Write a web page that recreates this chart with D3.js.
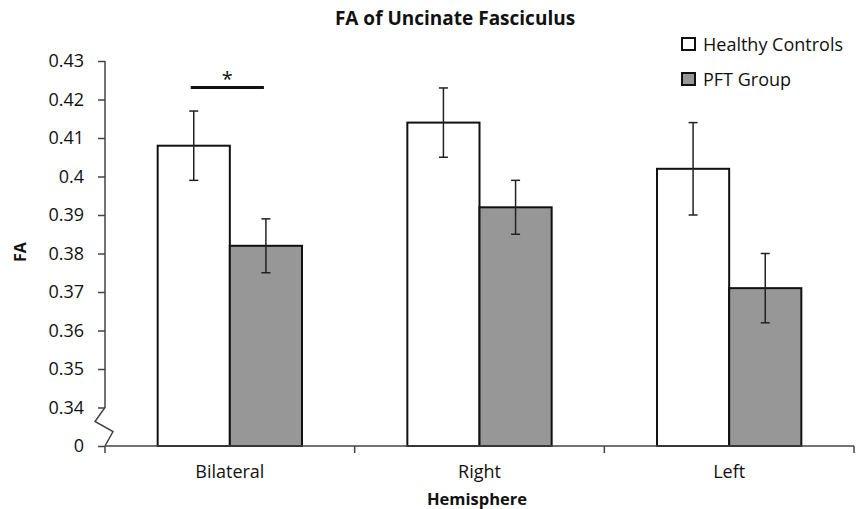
<!DOCTYPE html>
<html><head><meta charset="utf-8">
<script src="https://cdn.jsdelivr.net/npm/d3@7"></script>
<style>body{margin:0;background:#fff}svg{display:block}text{font-family:"Open Sans",sans-serif;fill:#111}</style>
</head><body><svg id="c" width="857" height="509"></svg>
<script>
const categories = ["Bilateral", "Right", "Left"];
const seriesNames = ["Healthy Controls", "PFT Group"];
const healthy = [0.408, 0.414, 0.402];
const healthyErr = [0.009, 0.009, 0.012];
const pft = [0.382, 0.392, 0.371];
const pftErr = [0.007, 0.007, 0.009];
const tickValues = [0.33, 0.34, 0.35, 0.36, 0.37, 0.38, 0.39, 0.40, 0.41, 0.42, 0.43];
const tickLabels = ["0", "0.34", "0.35", "0.36", "0.37", "0.38", "0.39", "0.4", "0.41", "0.42", "0.43"];
const colors = ["#ffffff", "#979797"];

(function () {
const svg = d3.select("#c");
const mLeft = 105, mRight = 854, mTop = 61, mBottom = 446;
const y = d3.scaleLinear().domain([0.33, 0.43]).range([mBottom, mTop]);
const x = d3.scaleBand().domain(categories).range([mLeft, mRight]);
const inner = d3.scaleBand().domain(seriesNames).range([0, x.bandwidth()]).paddingOuter(0.73).paddingInner(0);

// title
svg.append("text").attr("x", 455).attr("y", 25).attr("text-anchor", "middle")
  .attr("font-weight", "bold").attr("font-size", 19).text("FA of Uncinate Fasciculus");

// y axis
const yAxis = d3.axisLeft(y).tickValues(tickValues).tickSize(7).tickPadding(14)
  .tickFormat((d, i) => tickLabels[i]);
const gy = svg.append("g").attr("transform", `translate(${mLeft},0)`).call(yAxis);
gy.select(".domain").remove();
gy.selectAll(".tick line").attr("stroke", "#444").attr("stroke-width", 1.5);
gy.selectAll(".tick text").attr("font-size", 18).style("font-family", "'Open Sans',sans-serif").attr("fill", "#111");
svg.append("path").attr("fill", "none").attr("stroke", "#444").attr("stroke-width", 1.5)
  .attr("d", d3.line()([[mLeft, y(0.43)], [mLeft, y(0.34)], [mLeft - 10, y(0.34) + 14], [mLeft + 8, y(0.34) + 24], [mLeft, y(0.33)]]));

// bars
const data = categories.map((c, i) => ({c, vals: [
  {s: seriesNames[0], v: healthy[i], e: healthyErr[i], col: colors[0]},
  {s: seriesNames[1], v: pft[i], e: pftErr[i], col: colors[1]}]}));
const g = svg.append("g");
data.forEach(d => {
  d.vals.forEach(b => {
    const bx = x(d.c) + inner(b.s);
    g.append("rect").attr("x", bx).attr("y", y(b.v)).attr("width", inner.bandwidth())
      .attr("height", y(0.33) - y(b.v)).attr("fill", b.col).attr("stroke", "#111").attr("stroke-width", 2);
  });
});
data.forEach(d => {
  d.vals.forEach(b => {
    const cx = x(d.c) + inner(b.s) + inner.bandwidth() / 2;
    const y1 = y(b.v + b.e), y2 = y(b.v - b.e);
    g.append("line").attr("x1", cx).attr("x2", cx).attr("y1", y1).attr("y2", y2).attr("stroke", "#222").attr("stroke-width", 1.5);
    [y1, y2].forEach(yy => g.append("line").attr("x1", cx - 4.5).attr("x2", cx + 4.5).attr("y1", yy).attr("y2", yy).attr("stroke", "#222").attr("stroke-width", 1.5));
  });
});

// x axis
svg.append("line").attr("x1", mLeft).attr("x2", mRight).attr("y1", mBottom).attr("y2", mBottom).attr("stroke", "#444").attr("stroke-width", 1.5);
const bounds = categories.map(c => x(c)).concat([x.range()[1]]);
bounds.forEach(bx => svg.append("line").attr("x1", bx).attr("x2", bx).attr("y1", mBottom).attr("y2", mBottom + 7).attr("stroke", "#444").attr("stroke-width", 1.5));
categories.forEach(c => svg.append("text").attr("x", x(c) + x.bandwidth() / 2).attr("y", 478)
  .attr("text-anchor", "middle").attr("font-size", 18).text(c));
svg.append("text").attr("x", 477).attr("y", 505).attr("text-anchor", "middle").attr("font-weight", "bold").attr("font-size", 16.5).text("Hemisphere");
svg.append("text").attr("transform", `translate(26,252) rotate(-90)`).attr("text-anchor", "middle")
  .attr("font-weight", "bold").attr("font-size", 16).text("FA");

// significance
const sx1 = x("Bilateral") + inner(seriesNames[0]) + inner.bandwidth() / 2 - 3;
const sx2 = x("Bilateral") + inner(seriesNames[1]) + inner.bandwidth() / 2 - 2;
svg.append("line").attr("x1", sx1).attr("x2", sx2).attr("y1", 87.5).attr("y2", 87.5).attr("stroke", "#111").attr("stroke-width", 3);
svg.append("text").attr("x", (sx1 + sx2) / 2).attr("y", 86).attr("text-anchor", "middle").attr("font-size", 20).text("*");

// legend
seriesNames.forEach((s, i) => {
  const ly = 38 + i * 35;
  svg.append("rect").attr("x", 682).attr("y", ly).attr("width", 13).attr("height", 12)
    .attr("fill", colors[i]).attr("stroke", "#111").attr("stroke-width", 2);
  svg.append("text").attr("x", 703).attr("y", ly + 13).attr("font-size", 18).text(s);
});
})();
</script></body></html>
